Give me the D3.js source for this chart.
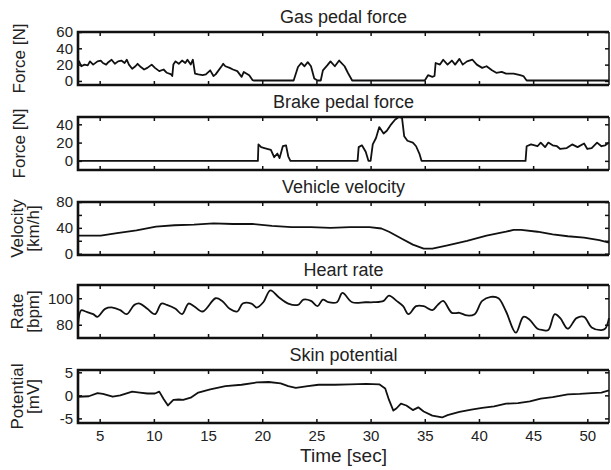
<!DOCTYPE html>
<html>
<head>
<meta charset="utf-8">
<script src="https://cdn.jsdelivr.net/npm/d3@7"></script>
<style>
  body { margin: 0; background: #fff; }
  text { font-family: "Liberation Sans", Arial, sans-serif; fill: #222; }
</style>
</head>
<body>
<div id="chart"></div>
<script>
// x axis
var timeDomain = [3, 52];
var timeTicks = [5, 10, 15, 20, 25, 30, 35, 40, 45, 50];

// [time sec, value]
var gasForce = [
    [3.0,22],[3.1,24],[3.3,18],[3.6,20],[3.9,19],[4.1,24],[4.4,20],[4.8,24],[5.1,25],[5.3,22],
    [5.6,20],[5.8,23],[6.1,26],[6.4,21],[6.7,24],[7.0,25],[7.3,22],[7.5,26],[7.7,20],[8.0,15],
    [8.3,18],[8.5,21],[8.8,17],[9.1,14],[9.4,16],[9.8,20],[10.1,16],[10.5,12],[10.9,14],[11.2,10],
    [11.6,8],[11.7,6],[11.8,20],[12.0,24],[12.3,21],[12.6,25],[12.9,22],[13.1,26],[13.4,20],[13.6,26],
    [13.8,9],[14.1,8],[14.5,7],[14.8,8],[15.2,13],[15.5,6],[15.7,8],[16.3,19],[16.4,21],[16.6,18],
    [17.0,16],[17.3,14],[17.7,12],[18.1,5],[18.3,11],[18.8,7],[19.1,1],[19.2,0.5],[21.0,0.5],[22.9,0.5],
    [23.3,17],[23.6,22],[23.9,18],[24.2,23],[24.5,18],[24.8,3],[25.1,0.5],[25.4,0.5],[25.6,13],[26.0,19],
    [26.3,24],[26.7,18],[27.1,25],[27.6,18],[27.9,10],[28.3,0.5],[35.0,0.5],[35.3,7],[35.7,5],[35.9,6],
    [36.0,22],[36.4,20],[36.7,26],[37.1,20],[37.5,25],[37.8,20],[38.2,27],[38.5,20],[38.9,24],[39.4,26],
    [39.8,20],[40.3,16],[40.7,18],[41.2,13],[41.6,10],[42.1,11],[42.5,9],[43.2,9],[43.8,7],[44.1,6],
    [44.4,0.5],[52.0,0.5]
];

var brakeForce = [
    [3.0,0],[19.6,0],[19.65,18],[19.9,15],[20.2,14],[20.8,12],[21.1,4],[21.4,8],[21.6,3],[21.9,16],
    [22.2,17],[22.4,5],[22.6,0],[28.8,0],[28.9,15],[29.2,17],[29.55,10],[29.8,0],[30.0,0],[30.2,18],
    [30.5,25],[30.8,37],[31.2,30],[31.5,33],[31.9,40],[32.25,45],[32.6,48],[32.9,47],[33.1,27],[33.4,22],
    [33.9,20],[34.2,16],[34.5,8],[34.7,0],[44.3,0],[44.4,16],[44.8,18],[45.4,16],[45.7,20],[46.1,15],
    [46.4,20],[46.8,17],[47.2,16],[47.5,13],[48.1,14],[48.6,18],[49.1,15],[49.7,19],[50.0,13],[50.4,14],
    [50.9,20],[51.3,16],[51.65,17],[52.0,20]
];

var velocity = [
    [3.0,28],[5.1,28],[6.6,32],[8.4,36],[10.2,42],[11.9,44],[13.7,45],[15.5,47],[17.3,46],[19.1,46],
    [20.9,43],[22.7,41],[24.5,41],[26.3,40],[28.1,41],[29.9,41],[31.0,39],[31.7,34],[32.8,24],[33.9,14],
    [34.9,8],[35.7,8],[37.1,13],[38.9,20],[40.7,28],[42.5,34],[43.2,37],[43.9,37],[45.4,34],[46.8,30],
    [48.2,27],[49.7,25],[51.1,21],[52.0,17]
];

var heartRate = [
    [3.0,80],[3.3,91],[3.7,90],[4.4,88],[4.8,86],[5.5,92],[6.2,93],[6.9,91],[7.5,88],[8.2,95],
    [8.7,96],[9.4,92],[10.1,88],[10.7,96],[11.2,95],[12.0,92],[12.6,88],[13.2,96],[13.7,94],[14.5,90],
    [15.7,100],[16.3,98],[17.0,92],[17.7,90],[18.2,96],[19.0,96],[19.5,93],[20.1,97],[20.75,106],[21.5,101],
    [22.4,96],[23.3,95],[23.8,99],[24.5,98],[25.1,94],[25.6,99],[26.1,97],[26.9,97],[27.4,104],[28.3,97],
    [29.5,97],[30.3,97],[31.2,98],[31.7,102],[32.4,98],[33.0,94],[33.5,88],[34.2,94],[34.9,94],[35.7,91],
    [36.2,95],[36.7,98],[37.5,89],[38.2,89],[38.9,87],[39.6,88],[40.3,98],[41.1,101],[41.8,100],[42.5,90],
    [43.4,74],[44.1,86],[44.65,84],[45.4,77],[45.9,76],[46.4,76],[47.0,88],[47.5,85],[48.2,77],[49.0,85],
    [49.7,86],[50.4,78],[51.3,76],[51.65,77],[52.0,85]
];

var skinPotential = [
    [3.0,-0.3],[4.0,-0.2],[4.8,0.5],[5.3,0.3],[6.2,-0.3],[6.9,0],[8.0,0.8],[8.7,0.6],[9.4,0.4],[10.1,0.4],
    [10.5,0.8],[10.9,-0.8],[11.3,-2.2],[11.8,-1],[12.3,-0.9],[12.7,-1],[13.4,-0.5],[14.1,0.6],[15.2,1.3],[16.6,2],
    [18.1,2.3],[19.5,2.8],[20.6,2.9],[21.7,2.6],[22.4,2],[23.1,1.6],[24.2,2],[25.2,2.3],[26.7,2.3],[28.1,2.4],
    [29.6,2.5],[30.8,2.4],[31.35,1.5],[31.7,-1],[32.1,-3.3],[32.4,-2.8],[32.8,-1.8],[33.3,-2.2],[33.9,-3.2],[34.4,-2.6],
    [34.9,-3.5],[35.7,-4.4],[36.6,-4.8],[37.1,-4.3],[38.2,-3.6],[39.3,-3.1],[40.3,-2.7],[41.4,-2.4],[42.5,-1.8],[43.6,-1.7],
    [44.7,-1.3],[45.7,-0.7],[46.8,-0.4],[48.2,0.2],[49.3,0.3],[50.4,0.5],[51.3,0.6],[52.0,1.1]
];

var panelTitles = ["Gas pedal force", "Brake pedal force", "Vehicle velocity", "Heart rate", "Skin potential"];
var yLabels = [["Force [N]"], ["Force [N]"], ["Velocity", "[km/h]"], ["Rate", "[bpm]"], ["Potential", "[mV]"]];
var yDomains = [[-5, 60], [-10, 48], [-2, 80], [70, 110], [-6, 5.5]];
var yTicks = [[0, 20, 40, 60], [0, 20, 40], [0, 20, 40, 60, 80], [80, 100], [-5, 0, 5]];
var yTickLabels = [[0, 20, 40, 60], [0, 20, 40], [0, 40, 80], [80, 100], [-5, 0, 5]];
var series = [gasForce, brakeForce, velocity, heartRate, skinPotential];

var width = 611, height = 470;
var left = 78, right = 609;
var panelTops = [32, 117, 202, 285, 370];
var panelHeight = 53;

var svg = d3.select("#chart").append("svg")
    .attr("width", width)
    .attr("height", height);

var x = d3.scaleLinear().domain(timeDomain).range([left, right]);

series.forEach(function(data, i) {
    var top = panelTops[i];
    var bottom = top + panelHeight;
    var y = d3.scaleLinear().domain(yDomains[i]).range([bottom, top]);
    var isLast = i === series.length - 1;

    var g = svg.append("g");

    // inward ticks on all four sides
    var bottomAxis = d3.axisBottom(x).tickValues(timeTicks).tickSize(-4).tickPadding(7);
    if (!isLast) bottomAxis.tickFormat("");
    g.append("g")
        .attr("transform", "translate(0," + bottom + ")")
        .call(bottomAxis);

    g.append("g")
        .attr("transform", "translate(0," + top + ")")
        .call(d3.axisTop(x).tickValues(timeTicks).tickSize(-4).tickFormat(""));

    g.append("g")
        .attr("transform", "translate(" + left + ",0)")
        .call(d3.axisLeft(y).tickValues(yTicks[i]).tickSize(-4).tickPadding(5)
            .tickFormat(function(d) { return yTickLabels[i].indexOf(d) >= 0 ? d : ""; }));

    g.append("g")
        .attr("transform", "translate(" + right + ",0)")
        .call(d3.axisRight(y).tickValues(yTicks[i]).tickSize(-4).tickFormat(""));

    g.selectAll(".domain").remove();
    g.selectAll(".tick line").attr("stroke", "#111").attr("stroke-width", 1.5);
    g.selectAll(".tick text")
        .style("font-size", "15px")
        .style("font-family", "'Liberation Sans', Arial, sans-serif")
        .attr("fill", "#222");

    // data line
    var line = d3.line()
        .x(function(d) { return x(d[0]); })
        .y(function(d) { return y(d[1]); })
        .curve(i === 3 ? d3.curveCatmullRom : d3.curveLinear);

    g.append("path")
        .datum(data)
        .attr("fill", "none")
        .attr("stroke", "#111")
        .attr("stroke-width", 1.8)
        .attr("stroke-linejoin", "round")
        .attr("d", line);

    // frame: heavy top/left/bottom, light right
    g.append("path")
        .attr("d", "M" + right + "," + top + "H" + left + "V" + bottom + "H" + right)
        .attr("fill", "none")
        .attr("stroke", "#111")
        .attr("stroke-width", 2.6);
    g.append("line")
        .attr("x1", right).attr("x2", right)
        .attr("y1", top).attr("y2", bottom)
        .attr("stroke", "#111")
        .attr("stroke-width", 1.5);

    // title
    g.append("text")
        .attr("x", (left + right) / 2)
        .attr("y", top - 9)
        .attr("text-anchor", "middle")
        .style("font-size", "18px")
        .text(panelTitles[i]);

    // y label
    var lines = yLabels[i];
    var cy = (top + bottom) / 2;
    lines.forEach(function(txt, k) {
        var bx = lines.length === 1 ? 25 : (k === 0 ? 23 : 39);
        g.append("text")
            .attr("transform", "translate(" + bx + "," + cy + ") rotate(-90)")
            .attr("text-anchor", "middle")
            .style("font-size", "17px")
            .text(txt);
    });
});

svg.append("text")
    .attr("x", (left + right) / 2)
    .attr("y", 462)
    .attr("text-anchor", "middle")
    .style("font-size", "19px")
    .text("Time [sec]");
</script>
</body>
</html>
